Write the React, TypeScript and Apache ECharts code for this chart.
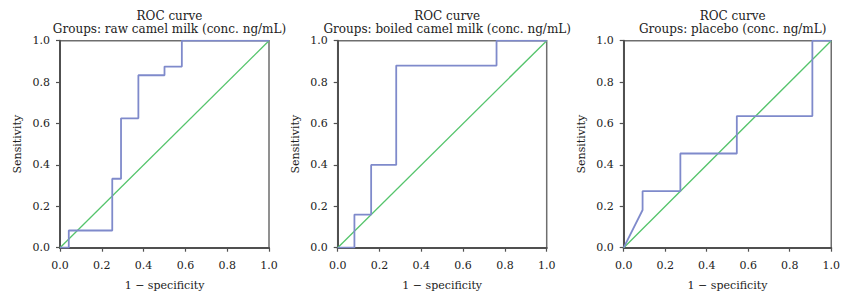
import React, { useEffect, useRef } from "react";
import * as echarts from "echarts";

const titles = [
  "Groups: raw camel milk (conc. ng/mL)",
  "Groups: boiled camel milk (conc. ng/mL)",
  "Groups: placebo (conc. ng/mL)",
];

// ROC curve vertices: [1 - specificity, sensitivity]
const rawCurve: [number, number][] = [
  [0, 0], [0.042, 0], [0.042, 0.083], [0.25, 0.083], [0.25, 0.333],
  [0.292, 0.333], [0.292, 0.625], [0.375, 0.625], [0.375, 0.833],
  [0.5, 0.833], [0.5, 0.875], [0.583, 0.875], [0.583, 1], [1, 1],
];
const boiledCurve: [number, number][] = [
  [0, 0], [0.08, 0], [0.08, 0.16], [0.16, 0.16], [0.16, 0.4],
  [0.28, 0.4], [0.28, 0.88], [0.76, 0.88], [0.76, 1], [1, 1],
];
const placeboCurve: [number, number][] = [
  [0, 0], [0.091, 0.182], [0.091, 0.273], [0.273, 0.273], [0.273, 0.455],
  [0.545, 0.455], [0.545, 0.636], [0.909, 0.636], [0.909, 1], [1, 1],
];
const diagonal: [number, number][] = [[0, 0], [1, 1]];
const curves = [rawCurve, boiledCurve, placeboCurve];

const gridLefts = [60, 337.7, 623.7];
const gridWidths = [209, 209, 208];
const gridTop = 40.7;
const gridHeight = 207;
const FONT = "DejaVu Serif";
const TEXT = "#222";

export default function App() {
  const ref = useRef<HTMLDivElement>(null);
  useEffect(() => {
    if (!ref.current) return;
    const chart = echarts.init(ref.current, undefined, { renderer: "svg" });
    const grids = gridLefts.map((l, i) => ({
      left: l,
      top: gridTop,
      width: gridWidths[i],
      height: gridHeight,
      show: true,
      borderColor: "#6e6e6e",
      borderWidth: 1.5,
      backgroundColor: "transparent",
    }));
    const axisCommon = {
      type: "value" as const,
      min: 0,
      max: 1,
      interval: 0.2,
      splitLine: { show: false },
      axisLine: { show: true, onZero: false, lineStyle: { color: "#505050", width: 2 } },
      axisTick: { show: true, inside: false, length: 4, lineStyle: { color: "#505050", width: 1.2 } },
      axisLabel: {
        fontFamily: FONT,
        fontSize: 11,
        color: TEXT,
        formatter: (v: number) => v.toFixed(1),
      },
      nameTextStyle: { fontFamily: FONT, fontSize: 11, color: TEXT },
    };
    const xAxes = gridLefts.map((_, i) => ({
      ...axisCommon,
      gridIndex: i,
      name: "1 \u2212 specificity",
      nameLocation: "middle",
      nameGap: 32,
      axisLabel: { ...axisCommon.axisLabel, margin: 12 },
    }));
    const yAxes = gridLefts.map((_, i) => ({
      ...axisCommon,
      gridIndex: i,
      name: "Sensitivity",
      nameLocation: "middle",
      nameGap: 37,
      axisLabel: { ...axisCommon.axisLabel, margin: 10 },
    }));
    const series: any[] = [];
    curves.forEach((c, i) => {
      series.push({
        type: "line",
        xAxisIndex: i,
        yAxisIndex: i,
        data: diagonal,
        symbol: "none",
        lineStyle: { color: "#55c46c", width: 1.3 },
        z: 2,
      });
      series.push({
        type: "line",
        xAxisIndex: i,
        yAxisIndex: i,
        data: c,
        symbol: "none",
        lineStyle: { color: "#7f8acb", width: 1.8 },
        z: 3,
      });
    });
    const title = titles.map((t, i) => ({
      text: "ROC curve\n" + t,
      left: gridLefts[i] + gridWidths[i] / 2,
      top: 5,
      textAlign: "center",
      textStyle: {
        fontFamily: FONT,
        fontSize: 12,
        fontWeight: "normal",
        color: TEXT,
        lineHeight: 12.5,
      },
    }));
    chart.setOption({
      animation: false,
      backgroundColor: "#fff",
      title,
      grid: grids,
      xAxis: xAxes,
      yAxis: yAxes,
      series,
    });
    return () => chart.dispose();
  }, []);
  return (
    <div
      ref={ref}
      style={{ position: "absolute", left: 0, top: 0, width: 843, height: 299 }}
    />
  );
}
